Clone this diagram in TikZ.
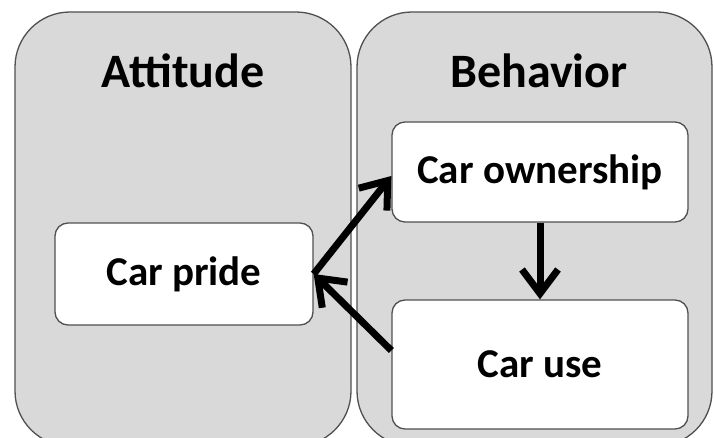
\documentclass[tikz,border=0pt]{standalone}
\usepackage{fontspec}
\setmainfont{Carlito}
\usepackage{tikz}
\usetikzlibrary{arrows.meta,positioning,calc}
\definecolor{CPgray}{RGB}{217,217,217}
\definecolor{CPedge}{RGB}{80,80,80}
\tikzset{
  panel/.style={rounded corners=55pt,draw=CPedge,line width=1.3pt,fill=CPgray},
  ptitle/.style={font=\fontsize{48}{54}\selectfont\bfseries,text=black},
  item/.style={rounded corners=13pt,draw=CPedge,line width=1.3pt,fill=white,
               font=\fontsize{41}{46}\selectfont\bfseries,text=black,align=center,
               inner sep=0pt},
  arr/.style={-{Straight Barb[length=24pt,width=36pt]},line width=7pt,draw=black}
}
\begin{document}
\begin{tikzpicture}[x=1pt,y=1pt]
  \useasboundingbox (0,0) rectangle (714,438);
  \clip (0,0) rectangle (714,438);
  % panels
  \draw[panel] (15,-8) rectangle (351,426);
  \draw[panel] (357,-8) rectangle (712,426);
  \node[ptitle] (att) at (183,367) {Attitude};
  \node[ptitle] (beh) at (539,367) {Behavior};
  % boxes
  \node[item,minimum width=258pt,minimum height=102pt] (pride) at (184,164) {Car pride};
  \node[item,minimum width=296pt,minimum height=100pt] (own) at (540,266) {Car ownership};
  \node[item,minimum width=296pt,minimum height=129pt] (use) at (540,73.5) {Car use};
  % links
  \draw[arr] (pride.east) -- ([yshift=-4pt]own.west);
  \draw[arr] (own.south) -- (use.north);
  \draw[arr] ([yshift=14pt]use.west) -- (pride.east);
\end{tikzpicture}
\end{document}
